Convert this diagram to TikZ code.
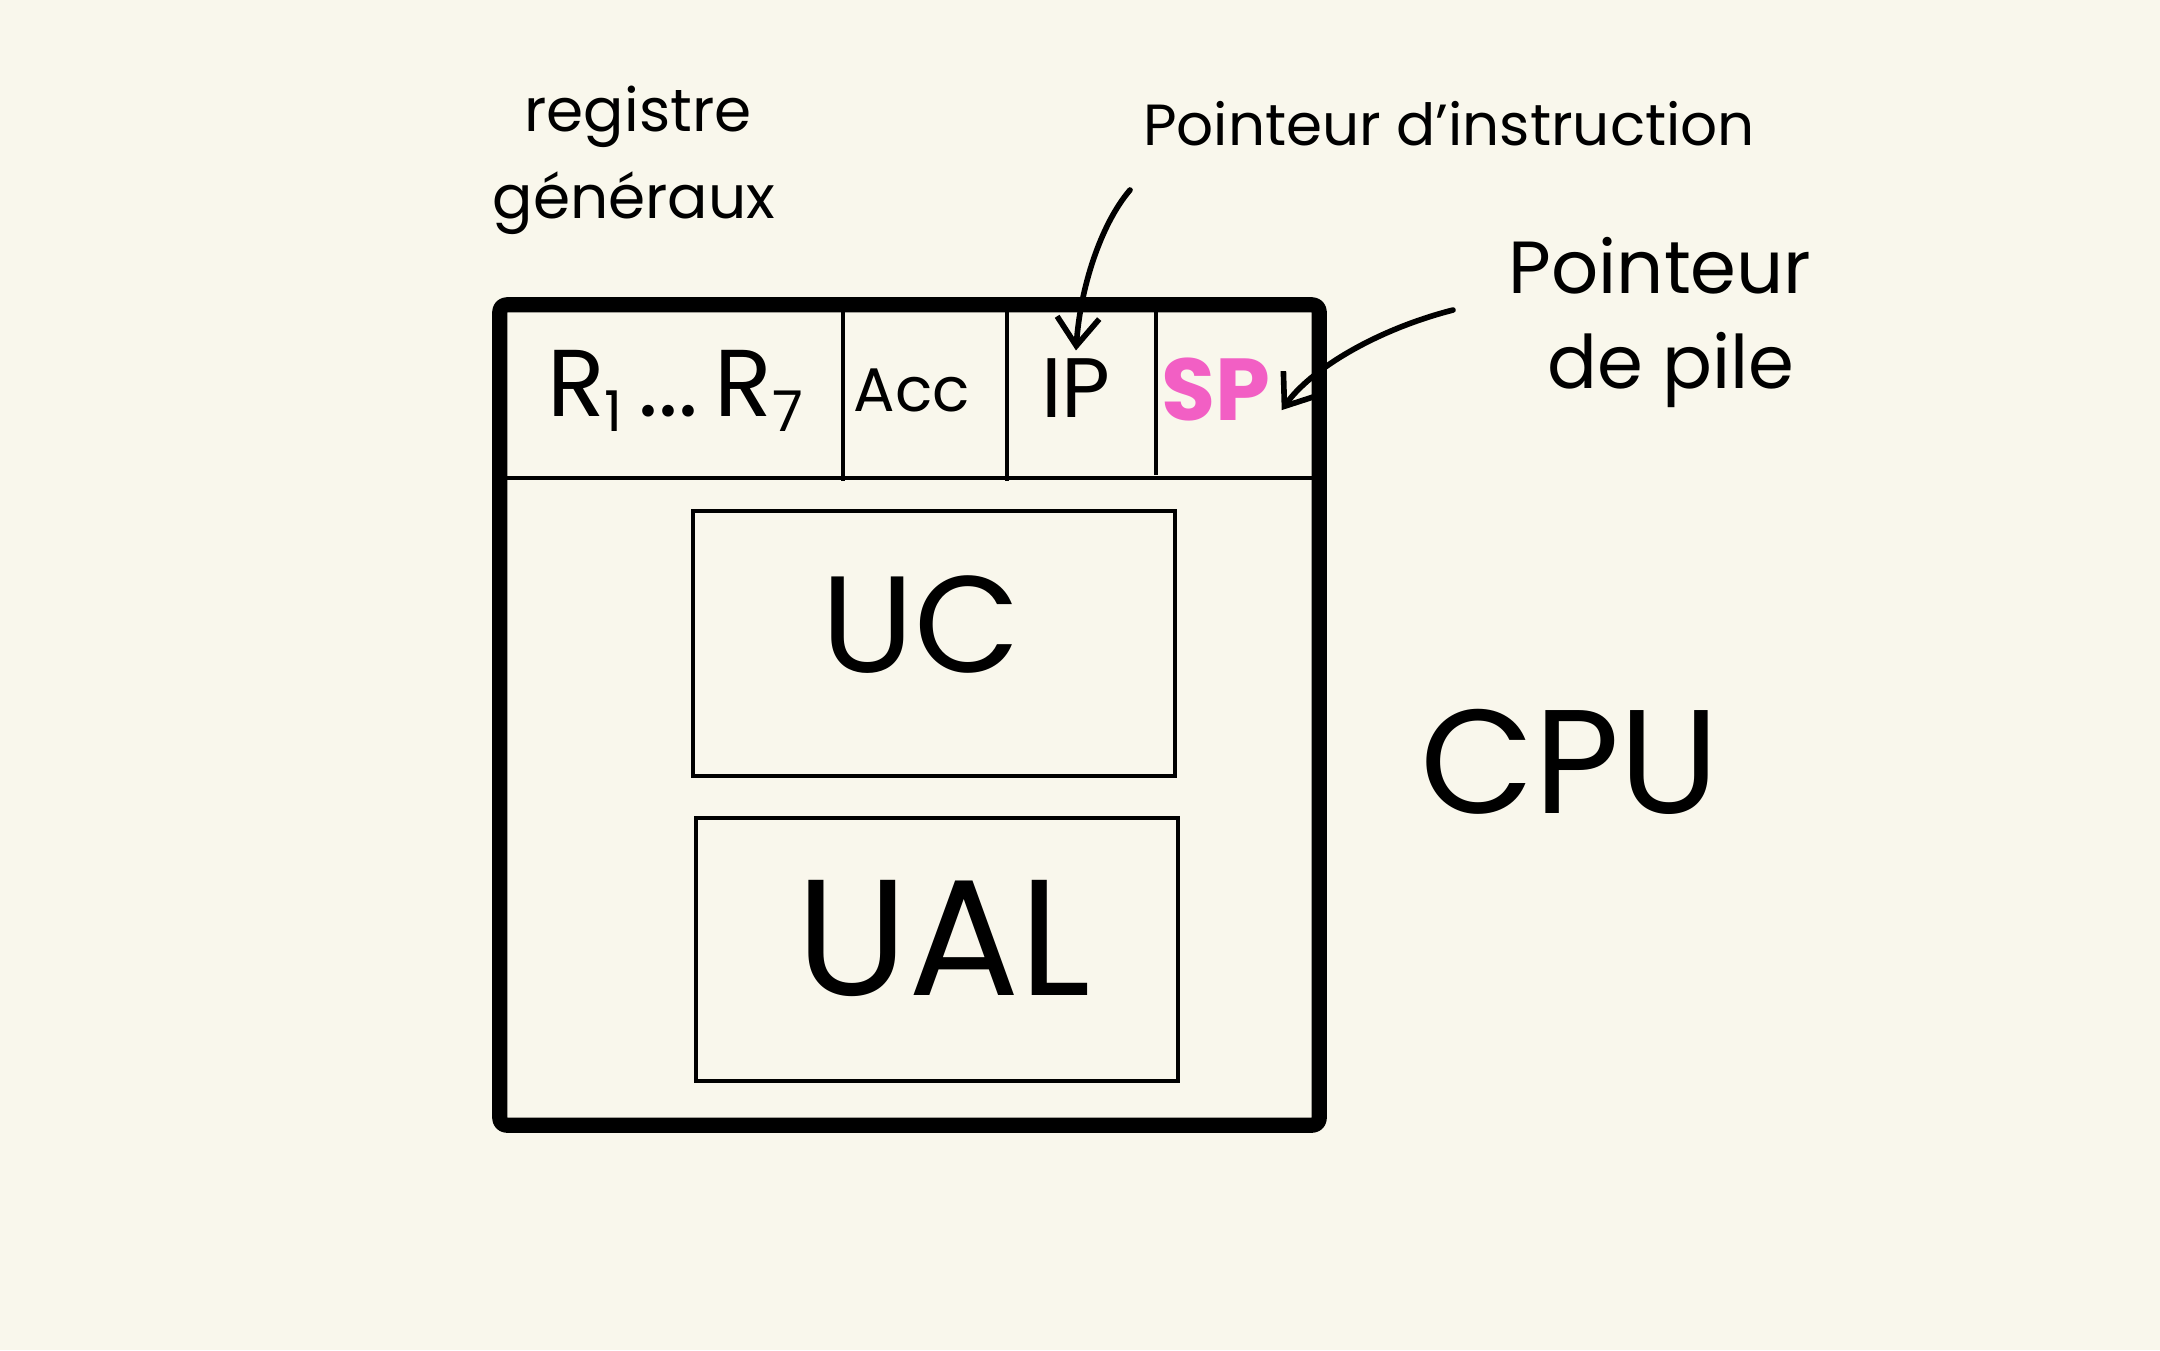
\documentclass[tikz,border=0pt]{standalone}
\usepackage{fontspec}
\setmainfont{Poppins}
\usetikzlibrary{arrows.meta}
\definecolor{bg}{RGB}{249,247,236}
\definecolor{spink}{RGB}{242,95,196}
\newcommand{\regsub}[1]{\raisebox{-0.3ex}{\fontsize{16}{16}\selectfont #1}}
\begin{document}
\begin{tikzpicture}[x=0.01cm,y=-0.01cm,
  heavybox/.style={draw, line width=4.3pt, rounded corners=2pt, line join=round, inner sep=0pt},
  lightbox/.style={draw, line width=1.3pt, inner sep=0pt},
  thinline/.style={line width=1.3pt},
  celltext/.style={inner sep=0pt, anchor=base, font=\fontsize{24}{28}\selectfont},
  note/.style={inner sep=0pt, anchor=base, font=\fontsize{19}{22}\selectfont},
  ptr/.style={line width=1.6pt, line cap=round, -{Straight Barb[length=8pt,width=12pt,line width=1.6pt]}}
]
\fill[bg] (0,0) rectangle (2160,1350);
\useasboundingbox (0,0) rectangle (2160,1350);

% boxes
\node[heavybox, minimum width=8.19cm, minimum height=8.2cm] (cpubox) at (909.5,715) {};
\node[lightbox, minimum width=4.82cm, minimum height=2.65cm] (ucbox) at (934,643.5) {};
\node[lightbox, minimum width=4.82cm, minimum height=2.63cm] (ualbox) at (937,949.5) {};

% register row
\draw[thinline] (cpubox.west |- 0,478) -- (cpubox.east |- 0,478);
\draw[thinline] (843,305) -- (843,481);
\draw[thinline] (1007,305) -- (1007,481);
\draw[thinline] (1156,310) -- (1156,475);

\node[celltext, font=\fontsize{27}{30}\selectfont] (regs) at (675,416) {R\regsub{1}\,...\,R\regsub{7}};
\node[celltext, font=\fontsize{17.5}{22}\selectfont] (acc) at (912,411) {Acc};
\node[celltext] (ip) at (1076,417) {IP};
\node[celltext, text=spink, font=\fontsize{25}{28}\bfseries] (sp) at (1216,420) {SP};

% inner units
\node[inner sep=0pt, anchor=base, font=\fontsize{39}{44}\selectfont] (uc) at (921,672) {UC};
\node[inner sep=0pt, anchor=base, font=\fontsize{47}{52}\selectfont] (ual) at (944,995) {UAL};
\node[inner sep=0pt, anchor=base, font=\fontsize{42}{48}\selectfont] (cpu) at (1570,813) {CPU};

% annotations
\node[note, font=\fontsize{17}{20}\selectfont] (reg1) at (638,131) {registre};
\node[note, font=\fontsize{17}{20}\selectfont] (reg2) at (634,218) {généraux};
\node[note, font=\fontsize{16.5}{20}\selectfont] (ipnote) at (1449,145) {Pointeur d'instruction};
\node[note, font=\fontsize{21}{24}\selectfont] (spnote1) at (1660,293) {Pointeur};
\node[note, font=\fontsize{21}{24}\selectfont] (spnote2) at (1671,388) {de pile};

\coordinate (ipfrom) at (1130,190);
\coordinate (spfrom) at (1453,310);
\draw[ptr] (ipfrom) .. controls (1100,225) and (1080,290) .. ([yshift=2pt]ip.north);
\draw[ptr] (spfrom) .. controls (1375,330) and (1310,370) .. ([xshift=3pt,yshift=-6pt]sp.east);
\end{tikzpicture}
\end{document}
